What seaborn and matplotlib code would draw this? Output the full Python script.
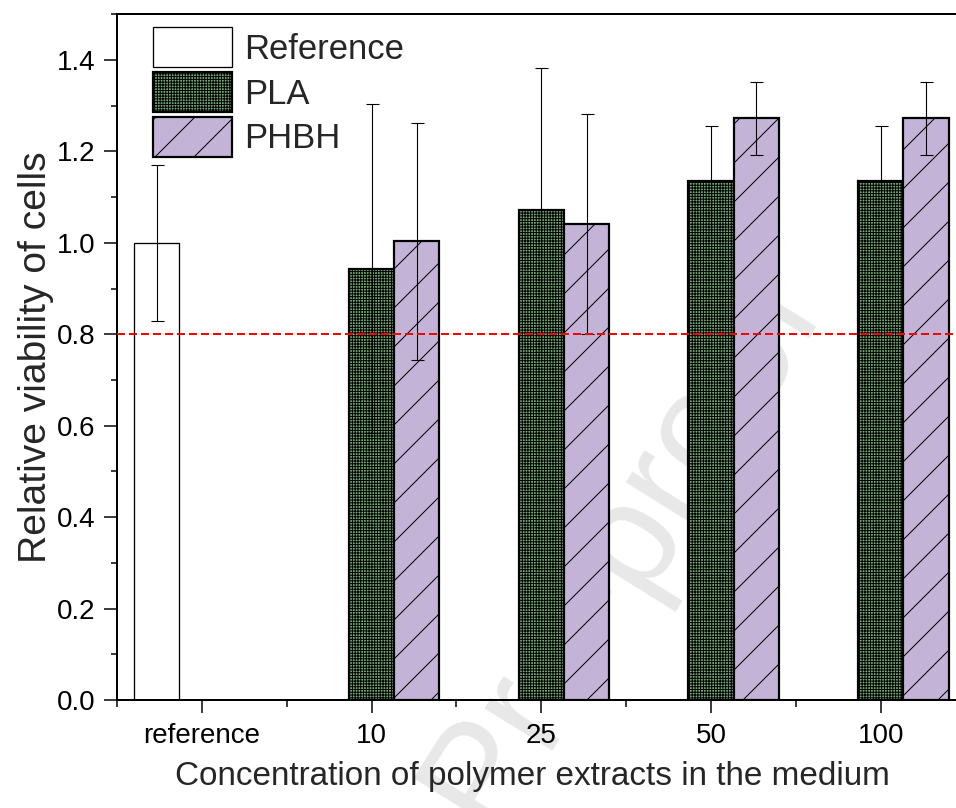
import matplotlib
matplotlib.use("Agg")
import matplotlib.pyplot as plt
from matplotlib.ticker import FixedLocator, FormatStrFormatter, MultipleLocator
import pandas as pd
import seaborn as sns

# Cell viability relative to the untreated reference
categories = ["reference", "10", "25", "50", "100"]
series = ["Reference", "PLA", "PHBH"]

reference_mean = [1.000]
reference_sd = [0.170]
pla_mean = [0.943, 1.072, 1.136, 1.136]
pla_sd = [0.360, 0.311, 0.120, 0.120]
phbh_mean = [1.003, 1.041, 1.272, 1.272]
phbh_sd = [0.259, 0.240, 0.080, 0.080]

threshold = 0.8

rows = [("reference", "Reference", m, s) for m, s in zip(reference_mean, reference_sd)]
rows += [(c, "PLA", m, s) for c, m, s in zip(categories[1:], pla_mean, pla_sd)]
rows += [(c, "PHBH", m, s) for c, m, s in zip(categories[1:], phbh_mean, phbh_sd)]
df = pd.DataFrame(rows, columns=["category", "series", "value", "sd"])

# Rendering resolution; sizes below are given in pixels and converted to points
DPI = 117


def px(v):
    return v * 72.0 / DPI


sns.set_style("ticks")
plt.rcParams["font.family"] = ["Liberation Sans", "DejaVu Sans"]
plt.rcParams["hatch.linewidth"] = px(1.0)
plt.rcParams["hatch.color"] = "black"

fig = plt.figure(figsize=(957 / DPI, 808 / DPI), dpi=DPI)
ax = fig.add_axes([0.1223, 0.1337, 0.8866, 0.8487])
ax.patch.set_visible(False)

# faint diagonal watermark behind the plot
fig.text(0.511, -0.031, "Pre-proof", rotation=58, rotation_mode="anchor",
         ha="left", va="baseline", fontsize=px(150), color="#e8e8e8", zorder=-1)

palette = {"Reference": "white", "PLA": "#74ae74", "PHBH": "#c3b4d7"}
sns.barplot(data=df, x="category", y="value", hue="series",
            order=categories, hue_order=series, palette=palette,
            errorbar=None, width=0.8, dodge=True, legend=False,
            edgecolor="black", saturation=1, ax=ax, zorder=2)

styles = {
    "Reference": dict(hatch=None, lw=px(1.3)),
    "PLA": dict(hatch="+++++++", lw=px(2.2)),
    "PHBH": dict(hatch="/", lw=px(2.2)),
}
sd_lookup = {(r.series, r.category): r.sd for r in df.itertuples()}
for name, container in zip(series, ax.containers):
    st = styles[name]
    xs, ys, es = [], [], []
    for p in container.patches:
        p.set_hatch(st["hatch"])
        p.set_linewidth(st["lw"])
        p.set_edgecolor("black")
        xc = p.get_x() + p.get_width() / 2
        cat = categories[int(round(xc))]
        xs.append(xc)
        ys.append(p.get_height())
        es.append(sd_lookup[(name, cat)])
    ax.errorbar(xs, ys, yerr=es, fmt="none", ecolor="black", elinewidth=px(1.1),
                capsize=px(6.5), capthick=px(1.1), zorder=4)

ax.axhline(threshold, color="red", ls=(0, (4, 2)), lw=px(2.0), zorder=5)

ax.set_xlim(-0.5, 4.5)
ax.set_ylim(0, 1.5)
ax.yaxis.set_major_locator(MultipleLocator(0.2))
ax.yaxis.set_minor_locator(MultipleLocator(0.1))
ax.yaxis.set_major_formatter(FormatStrFormatter("%.1f"))
ax.xaxis.set_minor_locator(FixedLocator([i - 0.5 for i in range(len(categories) + 1)]))
ax.tick_params(axis="both", which="major", direction="out", length=px(13), width=px(1.5),
               labelsize=px(27.8), color="black", labelcolor="black")
ax.tick_params(axis="both", which="minor", direction="out", length=px(6.5), width=px(1.5),
               color="black")
ax.tick_params(axis="y", which="major", pad=px(8.5))
ax.tick_params(axis="x", which="major", pad=px(10))

for side in ["left", "bottom", "top", "right"]:
    ax.spines[side].set_linewidth(px(2.0))
    ax.spines[side].set_color("black")

ax.set_xlabel("Concentration of polymer extracts in the medium", fontsize=px(33.3),
              labelpad=px(12))
ax.xaxis.label.set_x(0.49)
ax.set_ylabel("Relative viability of cells", fontsize=px(39), labelpad=px(3))

ax.legend(handles=list(ax.containers), labels=series, loc="upper left",
          bbox_to_anchor=(153 / 957, 1 - 27 / 808), bbox_transform=fig.transFigure,
          frameon=False, fontsize=px(34.7), handlelength=2.28, handleheight=1.40,
          handletextpad=0.35, labelspacing=0.14, borderpad=0, borderaxespad=0)

fig.savefig("out.png", dpi=DPI)
